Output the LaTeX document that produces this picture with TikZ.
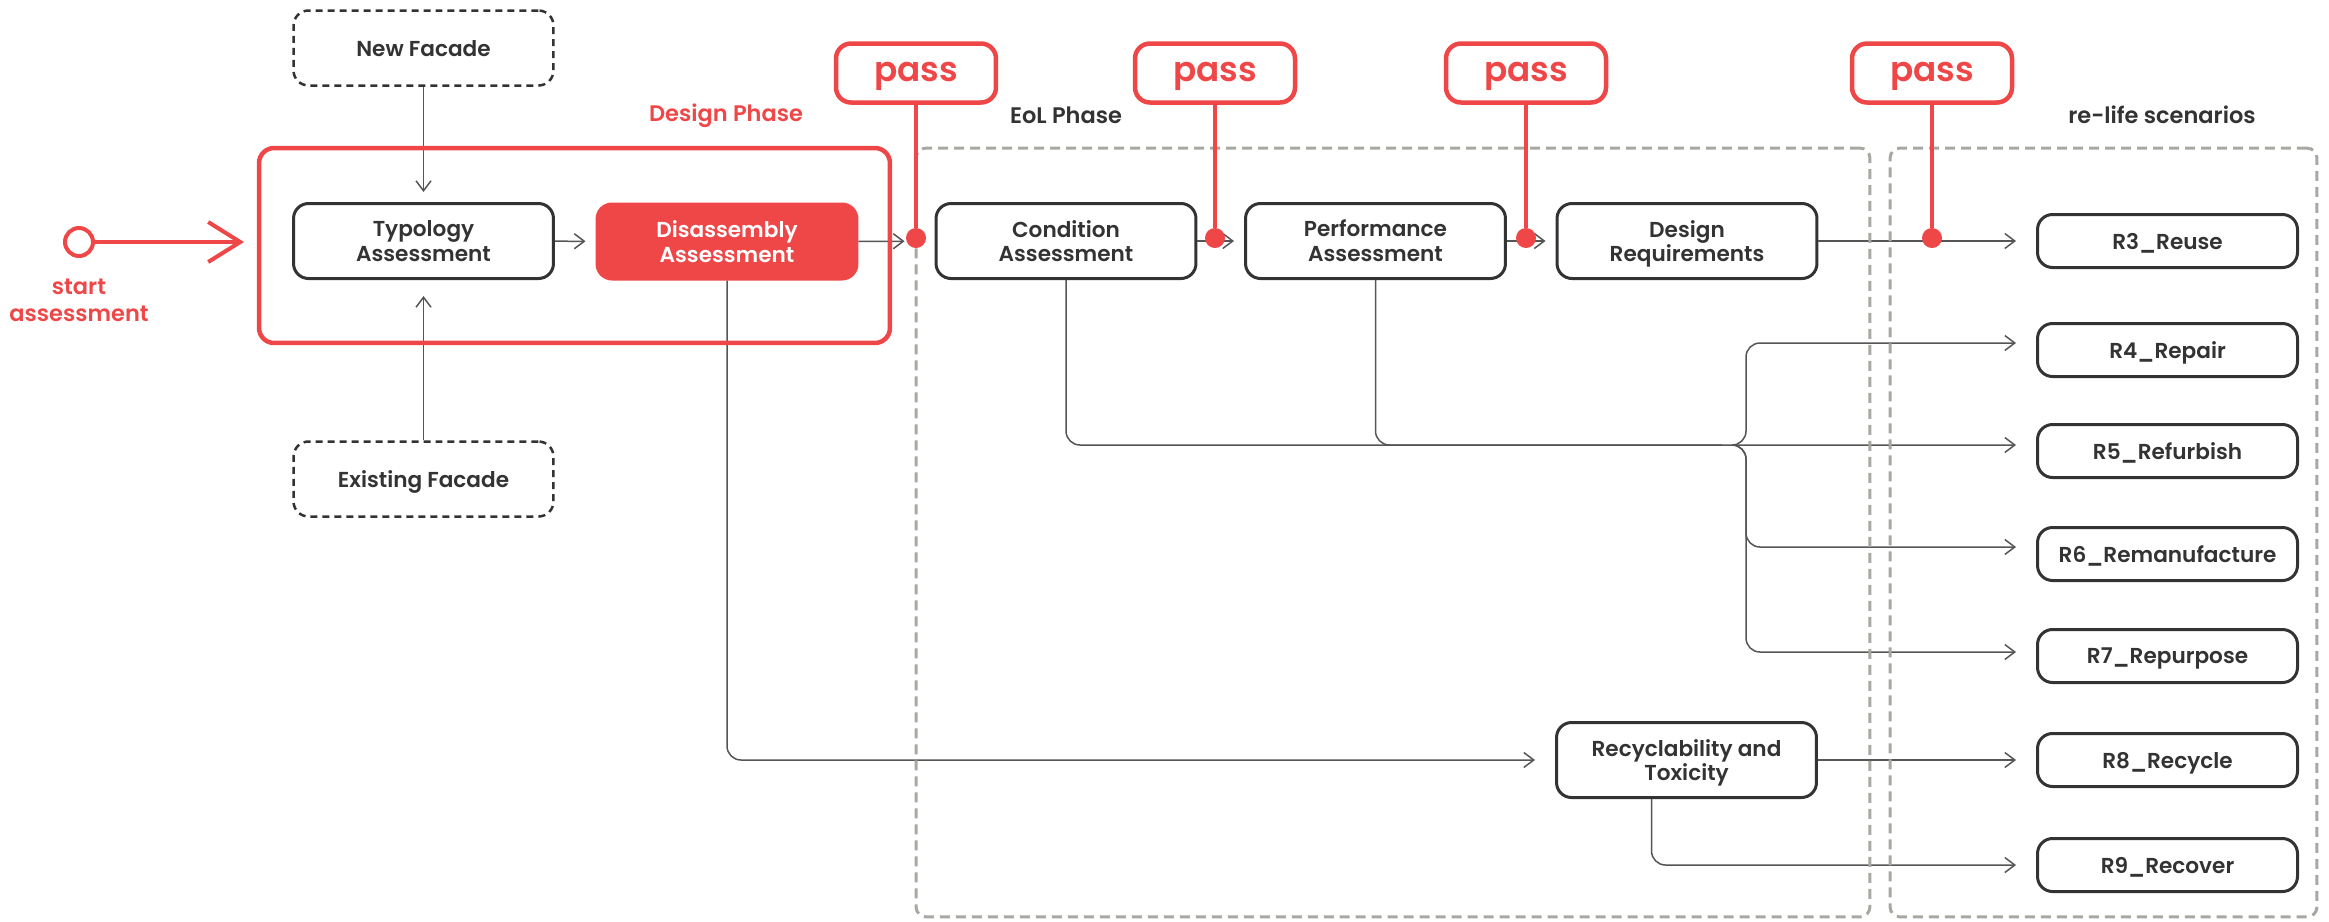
\documentclass[tikz,border=0pt]{standalone}
\usepackage{fontspec}
\setmainfont{Poppins}[BoldFont={Poppins SemiBold}]
\usepackage{xcolor}
\usepackage{tikz}
\usetikzlibrary{arrows.meta, positioning}
\definecolor{passRed}{RGB}{239,71,71}
\definecolor{boxDark}{RGB}{51,51,51}
\definecolor{lineGray}{RGB}{85,85,85}
\definecolor{frameGray}{RGB}{168,168,163}

\begin{document}
\begin{tikzpicture}[x=0.02cm, y=-0.02cm,
    stage/.style={rectangle, rounded corners=0.3cm, draw=boxDark, line width=0.06cm, fill=white, text=boxDark, align=center, minimum width=5.2cm, minimum height=1.5cm, text depth=0pt, font=\bfseries\fontsize{12.3}{14.2}\selectfont},
    scenario/.style={stage, minimum height=1.06cm},
    inputbox/.style={stage, line width=0.05cm, dash pattern=on 0.14cm off 0.1cm},
    activebox/.style={stage, draw=passRed, fill=passRed, text=white},
    passbox/.style={rectangle, rounded corners=0.3cm, draw=passRed, line width=0.09cm, fill=white, text=passRed, minimum width=3.2cm, minimum height=1.18cm, text height=1em, text depth=0pt, font=\bfseries\fontsize{19.5}{20}\selectfont},
    dot/.style={circle, fill=passRed, minimum size=0.4cm, inner sep=0pt},
    phase/.style={font=\bfseries\fontsize{12.8}{15.3}\selectfont, text=boxDark, align=center},
    frame/.style={rectangle, draw=frameGray, line width=0.06cm, dash pattern=on 0.2cm off 0.12cm, rounded corners=0.2cm},
    flow/.style={draw=lineGray, line width=0.03cm, -{Straight Barb[length=0.2cm, width=0.3cm]}, rounded corners=0.28cm, shorten >=0.2cm},
    gate/.style={draw=passRed, line width=0.08cm}
]
\useasboundingbox (0,0) rectangle (2329,921);

% Design phase
\node[inputbox] (newf) at (423.5,48) {New Facade};
\node[stage] (typo) at (423.5,241) {Typology\\Assessment};
\node[inputbox] (exist) at (423.5,479) {Existing Facade};
\node[activebox] (disas) at (727,241.5) {Disassembly\\Assessment};

% EoL phase
\node[stage] (cond) at (1066,241) {Condition\\Assessment};
\node[stage] (perf) at (1375.5,241) {Performance\\Assessment};
\node[stage] (dreq) at (1687,241) {Design\\Requirements};
\node[stage] (recyc) at (1686.5,760) {Recyclability and\\Toxicity};

% re-life scenarios
\node[scenario] (r3) at (2167.5,241) {R3\_Reuse};
\node[scenario] (r4) at (2167.5,350) {R4\_Repair};
\node[scenario] (r5) at (2167.5,451) {R5\_Refurbish};
\node[scenario] (r6) at (2167.5,554) {R6\_Remanufacture};
\node[scenario] (r7) at (2167.5,656) {R7\_Repurpose};
\node[scenario] (r8) at (2167.5,760) {R8\_Recycle};
\node[scenario] (r9) at (2167.5,865) {R9\_Recover};

\coordinate (fork) at (1732,445);
\coordinate (trunk) at (1746,445);

% Start
\node[circle, draw=passRed, line width=0.08cm, fill=white, minimum size=0.56cm, inner sep=0pt] (start) at (79,242) {};
\node[phase, text=passRed] (starttxt) at (79,300) {start\\assessment};
\draw[passRed, line width=0.08cm, -{Straight Barb[length=0.64cm, width=0.8cm]}, shorten >=0.3cm] (start) -- (start -| 259,0);

% Connectors
\draw[flow] (newf) -- (typo);
\draw[flow, shorten >=0.32cm] (exist) -- (typo);
\draw[flow] (typo) -- (disas);
\draw[flow, shorten >=0.6cm] (disas) -- (cond);
\draw[flow] (cond) -- (perf);
\draw[flow] (perf) -- (dreq);
\draw[flow, shorten >=0.4cm] (dreq) -- (r3);
\draw[flow, shorten >=0.4cm] (disas) |- (recyc);
\draw[flow, shorten >=0.4cm] (cond) |- ([yshift=0.12cm]r5.west);
\draw[flow, -] (perf) |- (fork);
\draw[flow, shorten >=0.4cm] (fork) -- (trunk) |- ([yshift=0.14cm]r4.west);
\draw[flow, shorten >=0.4cm] (fork) -- (trunk) |- ([yshift=0.14cm]r6.west);
\draw[flow, shorten >=0.4cm] (fork) -- (trunk) |- ([yshift=0.08cm]r7.west);
\draw[flow, shorten >=0.4cm] (recyc) -- (r8);
\draw[flow, shorten >=0.4cm] ([xshift=-0.7cm]recyc.south) |- (r9);

% Frames
\node[rectangle, draw=passRed, line width=0.09cm, rounded corners=0.3cm, minimum width=12.62cm, minimum height=3.9cm] (design) at (574.5,245.5) {};
\node[frame, minimum width=19.08cm, minimum height=15.38cm] (eol) at (1393,532.5) {};
\node[frame, minimum width=8.54cm, minimum height=15.38cm] (relife) at (2103.5,532.5) {};
\node[phase, text=passRed] at (726,116) {Design Phase};
\node[phase] at (1066,115) {EoL Phase};
\node[phase] at (2162,115) {re-life scenarios};

% Pass gates
\node[passbox] (pass1) at (916,73) {pass};
\node[passbox] (pass2) at (1215,73) {pass};
\node[passbox] (pass3) at (1526,73) {pass};
\node[passbox] (pass4) at (1932,73) {pass};
\node[dot] (dot1) at (916,238) {};
\node[dot] (dot2) at (1215,238) {};
\node[dot] (dot3) at (1526,238) {};
\node[dot] (dot4) at (1932,238) {};
\draw[gate] (pass1) -- (dot1);
\draw[gate] (pass2) -- (dot2);
\draw[gate] (pass3) -- (dot3);
\draw[gate] (pass4) -- (dot4);

\end{tikzpicture}
\end{document}
